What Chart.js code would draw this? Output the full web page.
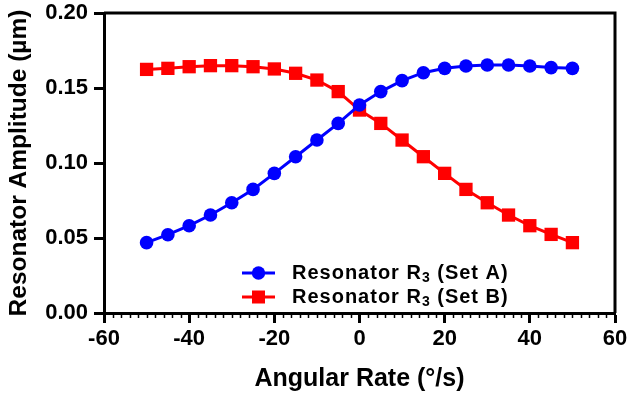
<!DOCTYPE html>
<html>
<head>
<meta charset="utf-8">
<script src="https://cdn.jsdelivr.net/npm/chart.js@4.4.1/dist/chart.umd.min.js"></script>
<style>
html, body { margin: 0; padding: 0; background: #fff; }
</style>
</head>
<body>
<canvas id="myChart" width="629" height="395"></canvas>
<script>
'use strict';
// data
let rates = [-50, -45, -40, -35, -30, -25, -20, -15, -10, -5, 0, 5, 10, 15, 20, 25, 30, 35, 40, 45, 50];
let setA = [0.0469, 0.0522, 0.0582, 0.0653, 0.0735, 0.0824, 0.0931, 0.1042, 0.1153, 0.1264, 0.1387, 0.1476, 0.1549, 0.1602, 0.1631, 0.1647, 0.1653, 0.1653, 0.1647, 0.1636, 0.1631];
let setB = [0.1624, 0.1631, 0.1642, 0.1649, 0.1649, 0.1642, 0.1627, 0.1598, 0.1553, 0.1476, 0.1353, 0.1264, 0.1153, 0.1042, 0.0931, 0.0824, 0.0735, 0.0653, 0.0582, 0.0524, 0.0469];
let seriesNames = ['Set A', 'Set B'];
let xTicks = [-60, -40, -20, 0, 20, 40, 60];
let yTicks = [0, 0.05, 0.10, 0.15, 0.20];

let fontFamily = '"Liberation Sans", Arial, Helvetica, sans-serif';

function toPoints(values) {
    return rates.map((r, i) => ({ x: r, y: values[i] }));
}

// top/right frame and minor ticks on x axis
let framePlugin = {
    id: 'frame',
    afterDraw(chart) {
        let ctx = chart.ctx;
        let a = chart.chartArea;
        ctx.save();
        ctx.strokeStyle = '#000';
        ctx.lineWidth = 3;
        ctx.beginPath();
        ctx.moveTo(a.left, a.top);
        ctx.lineTo(a.right, a.top);
        ctx.lineTo(a.right, a.bottom);
        ctx.stroke();

        let xs = chart.scales.x;
        ctx.lineWidth = 1.5;
        ctx.beginPath();
        for (let v = xTicks[0]; v <= xTicks[xTicks.length - 1]; v += 2) {
            if (v % 20 === 0) continue;
            let px = Math.round(xs.getPixelForValue(v)) + 0.5;
            ctx.moveTo(px, a.bottom);
            ctx.lineTo(px, a.bottom + 5);
        }
        ctx.stroke();
        ctx.restore();
    }
};

// legend drawn by hand so the subscript can be shown
let legendPlugin = {
    id: 'setLegend',
    afterDraw(chart) {
        let ctx = chart.ctx;
        let a = chart.chartArea;
        ctx.save();
        chart.data.datasets.forEach((ds, i) => {
            let y = a.bottom - 40 + i * 24;
            let x0 = a.left + 138;
            ctx.strokeStyle = ds.borderColor;
            ctx.fillStyle = ds.backgroundColor;
            ctx.lineWidth = 3;
            ctx.beginPath();
            ctx.moveTo(x0, y);
            ctx.lineTo(x0 + 33, y);
            ctx.stroke();
            let cx = x0 + 16.5;
            if (ds.pointStyle === 'rect') {
                ctx.fillRect(cx - 6.5, y - 6.5, 13, 13);
            } else {
                ctx.beginPath();
                ctx.arc(cx, y, 6.7, 0, Math.PI * 2);
                ctx.fill();
            }
            ctx.fillStyle = '#000';
            ctx.textBaseline = 'middle';
            ctx.textAlign = 'left';
            ctx.letterSpacing = '1px';
            let tx = x0 + 50;
            ctx.font = 'bold 20px ' + fontFamily;
            let t1 = 'Resonator R';
            ctx.fillText(t1, tx, y);
            tx += ctx.measureText(t1).width;
            ctx.font = 'bold 14px ' + fontFamily;
            ctx.fillText('3', tx, y + 5);
            tx += ctx.measureText('3').width;
            ctx.font = 'bold 20px ' + fontFamily;
            ctx.fillText(' (' + seriesNames[i] + ')', tx, y);
        });
        ctx.restore();
    }
};

let ctx = document.getElementById('myChart').getContext('2d');
let myChart = new Chart(ctx, {
    type: 'line',
    data: {
        datasets: [{
            label: 'Resonator R3 (' + seriesNames[0] + ')',
            data: toPoints(setA),
            borderColor: '#0000ff',
            backgroundColor: '#0000ff',
            borderWidth: 3,
            pointStyle: 'circle',
            pointRadius: 6.8,
            pointBorderWidth: 0,
            tension: 0
        }, {
            label: 'Resonator R3 (' + seriesNames[1] + ')',
            data: toPoints(setB),
            borderColor: '#ff0000',
            backgroundColor: '#ff0000',
            borderWidth: 3,
            pointStyle: 'rect',
            pointRadius: 9.4,
            pointBorderWidth: 0,
            tension: 0
        }]
    },
    options: {
        responsive: false,
        animation: false,
        devicePixelRatio: 1,
        layout: { padding: { top: 13, right: 14, left: 0, bottom: 0 } },
        plugins: {
            legend: { display: false },
            tooltip: { enabled: false }
        },
        scales: {
            x: {
                type: 'linear',
                min: xTicks[0],
                max: xTicks[xTicks.length - 1],
                afterFit(scale) {
                    scale.height = 82;
                    scale.paddingLeft = 0;
                    scale.paddingRight = 0;
                },
                afterBuildTicks(scale) { scale.ticks = xTicks.map(v => ({ value: v })); },
                ticks: {
                    color: '#000',
                    padding: 3,
                    maxRotation: 0,
                    font: { family: fontFamily, size: 22, weight: 'bold' },
                    callback: v => String(v)
                },
                grid: {
                    drawOnChartArea: false,
                    drawTicks: true,
                    tickLength: 10,
                    tickWidth: 3,
                    tickColor: '#000'
                },
                border: { display: true, color: '#000', width: 3 },
                title: {
                    display: true,
                    text: 'Angular Rate (°/s)',
                    color: '#000',
                    padding: { top: 0, bottom: 1 },
                    font: { family: fontFamily, size: 25, weight: 'bold' }
                }
            },
            y: {
                type: 'linear',
                min: yTicks[0],
                max: yTicks[yTicks.length - 1],
                afterFit(scale) {
                    scale.width = 104;
                    scale.paddingTop = 0;
                    scale.paddingBottom = 0;
                },
                afterBuildTicks(scale) { scale.ticks = yTicks.map(v => ({ value: v })); },
                ticks: {
                    color: '#000',
                    padding: 6,
                    font: { family: fontFamily, size: 22, weight: 'bold' },
                    callback: v => v.toFixed(2)
                },
                grid: {
                    drawOnChartArea: false,
                    drawTicks: true,
                    tickLength: 10,
                    tickWidth: 3,
                    tickColor: '#000'
                },
                border: { display: true, color: '#000', width: 3 },
                title: {
                    display: true,
                    text: 'Resonator Amplitude (µm)',
                    color: '#000',
                    padding: { top: 5, bottom: 0 },
                    font: { family: fontFamily, size: 24.5, weight: 'bold' }
                }
            }
        }
    },
    plugins: [framePlugin, legendPlugin]
});
</script>
</body>
</html>
